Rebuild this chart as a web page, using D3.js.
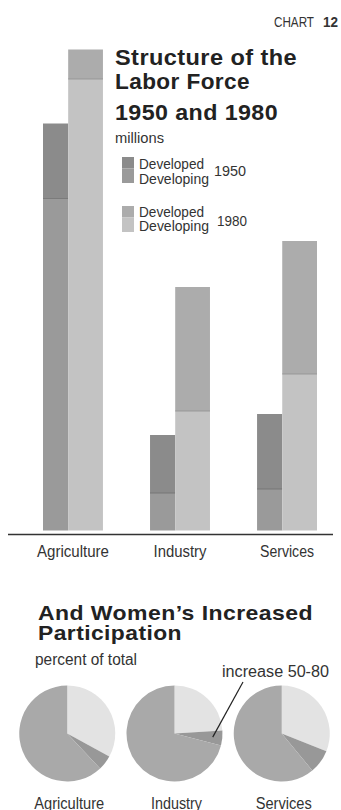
<!DOCTYPE html>
<html>
<head>
<meta charset="utf-8">
<script src="https://cdn.jsdelivr.net/npm/d3@7"></script>
<style>
  html, body { margin: 0; padding: 0; background: #fff; }
  svg { display: block; }
  .bold { font-family: "Liberation Sans", Arial, sans-serif; font-weight: bold; fill: #222; }
  .light { font-family: "Liberation Sans", Arial, sans-serif; fill: #333; }
</style>
</head>
<body>
<svg id="chart" width="341" height="810"></svg>
<script>
// Labor force by sector, millions
const categories = ["Agriculture", "Industry", "Services"];
const developed1950 = [150, 116, 150];
const developing1950 = [664, 75, 83];
const developed1980 = [59, 248, 266];
const developing1980 = [903, 239, 313];

// Women's share of the labor force by sector, percent of total
const womenShare1950 = [33, 24, 31];
const womenShare1980 = [38, 29, 39];

const colors = {
  dev1950: "#8b8b8b",
  devg1950: "#9a9a9a",
  dev1980: "#acacac",
  devg1980: "#c3c3c3",
  pieRest: "#a9a9a9",
  pieIncrease: "#989898",
  pieBase: "#e3e3e3"
};

const svg = d3.select("#chart");

// Condensed caption text: glyphs are squeezed to a set run length
function caption(xp, yp, str, size, len, anchor) {
  return svg.append("text").attr("class", "light")
    .attr("x", xp).attr("y", yp)
    .attr("text-anchor", anchor || "start")
    .attr("textLength", len).attr("lengthAdjust", "spacingAndGlyphs")
    .style("font-size", size + "px")
    .text(str);
}
// Bold heading text, widened to a set run length
function heading(xp, yp, str, len, size) {
  return svg.append("text").attr("class", "bold")
    .attr("x", xp).attr("y", yp)
    .attr("textLength", len).attr("lengthAdjust", "spacingAndGlyphs")
    .style("font-size", (size || 22) + "px")
    .style("letter-spacing", "0.4px")
    .text(str);
}

// ---- Bar chart ----
const x = d3.scaleBand().domain(categories).range([43, 317]).paddingInner(0.44);
const y = d3.scaleLinear().domain([0, 1000]).range([530.5, 30.5]);
const split = 0.42; // share of each group taken by the 1950 bar

const bars = svg.append("g");
categories.forEach((c, i) => {
  const x0 = x(c), bw = x.bandwidth();
  const w50 = bw * split, w80 = bw - w50;
  const stacks = [
    { x: x0, w: w50, lower: developing1950[i], upper: developed1950[i], cl: colors.devg1950, cu: colors.dev1950, edge: "#6f6f6f" },
    { x: x0 + w50, w: w80, lower: developing1980[i], upper: developed1980[i], cl: colors.devg1980, cu: colors.dev1980, edge: "#8f8f8f" }
  ];
  stacks.forEach(s => {
    bars.append("rect")
      .attr("x", s.x).attr("width", s.w)
      .attr("y", y(s.lower)).attr("height", y(0) - y(s.lower))
      .attr("fill", s.cl);
    bars.append("rect")
      .attr("x", s.x).attr("width", s.w)
      .attr("y", y(s.lower + s.upper)).attr("height", y(s.lower) - y(s.lower + s.upper))
      .attr("fill", s.cu);
    bars.append("line")
      .attr("x1", s.x).attr("x2", s.x + s.w)
      .attr("y1", y(s.lower)).attr("y2", y(s.lower))
      .attr("stroke", s.edge).attr("stroke-width", 0.8);
  });
});

// baseline rule
svg.append("line")
  .attr("x1", 8).attr("x2", 333).attr("y1", 534.5).attr("y2", 534.5)
  .attr("stroke", "#333").attr("stroke-width", 1.5);

// category labels
const labelWidths = { Agriculture: 72, Industry: 53, Services: 54 };
const xAxis = d3.axisBottom(x).tickSize(0).tickPadding(0);
const axisG = svg.append("g").attr("transform", "translate(0,545)").call(xAxis);
axisG.select(".domain").remove();
axisG.selectAll("text")
  .attr("class", "light")
  .attr("dy", null).attr("y", 12)
  .attr("textLength", d => labelWidths[d]).attr("lengthAdjust", "spacingAndGlyphs")
  .style("font-size", "16px")
  .attr("fill", "#333");

// ---- Headings ----
caption(274, 27, "CHART", 14, 40);
svg.append("text").attr("class", "light").attr("x", 323).attr("y", 27)
  .attr("textLength", 15).attr("lengthAdjust", "spacingAndGlyphs")
  .style("font-size", "14px").style("font-weight", "bold").text("12");

heading(115, 64.5, "Structure of the", 182);
heading(115, 88.5, "Labor Force", 135);
heading(115, 120, "1950 and 1980", 163);
caption(115, 143, "millions", 15, 49);

// ---- Legend ----
const legend = [
  { top: 157, cu: colors.dev1950, cl: colors.devg1950, year: "1950", yx: 214, yy: 176, yw: 32, t1: 168.5, t2: 183.5 },
  { top: 206, cu: colors.dev1980, cl: colors.devg1980, year: "1980", yx: 217, yy: 226, yw: 30, t1: 216.5, t2: 231 }
];
legend.forEach(l => {
  svg.append("rect").attr("x", 122).attr("y", l.top).attr("width", 12).attr("height", 11.5).attr("fill", l.cu);
  svg.append("rect").attr("x", 122).attr("y", l.top + 11.5).attr("width", 12).attr("height", 14.5).attr("fill", l.cl);
  caption(139, l.t1, "Developed", 14, 65);
  caption(139, l.t2, "Developing", 14, 70);
  caption(l.yx, l.yy, l.year, 15, l.yw);
});

// ---- Pies ----
heading(38, 619.5, "And Women\u2019s Increased", 275, 21);
heading(38, 640, "Participation", 144, 21);
caption(35, 665, "percent of total", 16, 102);

const pieX = d3.scaleBand().domain(categories).range([19, 330]).paddingInner(0.1);
const pieLabelWidths = { Agriculture: 70, Industry: 51, Services: 56 };
const radius = 48;
const pieCy = 733.5;
const arc = d3.arc().innerRadius(0).outerRadius(radius);
const pie = d3.pie().sort(null).value(d => d.v);

categories.forEach((c, i) => {
  const cx = pieX(c) + pieX.bandwidth() / 2;
  const parts = [
    { k: "base", v: womenShare1950[i], fill: colors.pieBase },
    { k: "inc", v: womenShare1980[i] - womenShare1950[i], fill: colors.pieIncrease },
    { k: "rest", v: 100 - womenShare1980[i], fill: colors.pieRest }
  ];
  const g = svg.append("g").attr("transform", `translate(${cx},${pieCy})`);
  g.selectAll("path").data(pie(parts)).join("path")
    .attr("d", arc).attr("fill", d => d.data.fill);

  caption(cx + 2, 808.5, c, 16, pieLabelWidths[c], "middle");

  if (c === "Industry") {
    // leader from the label to the industry increase wedge
    const inc = pie(parts)[1];
    const mid = (inc.startAngle + inc.endAngle) / 2;
    const r = radius * 0.8;
    const px = cx + Math.sin(mid) * r, py = pieCy - Math.cos(mid) * r;
    svg.append("line")
      .attr("x1", 243).attr("y1", 682).attr("x2", px).attr("y2", py)
      .attr("stroke", "#222").attr("stroke-width", 1.2);
  }
});

caption(222, 677, "increase 50-80", 16, 107);
</script>
</body>
</html>
